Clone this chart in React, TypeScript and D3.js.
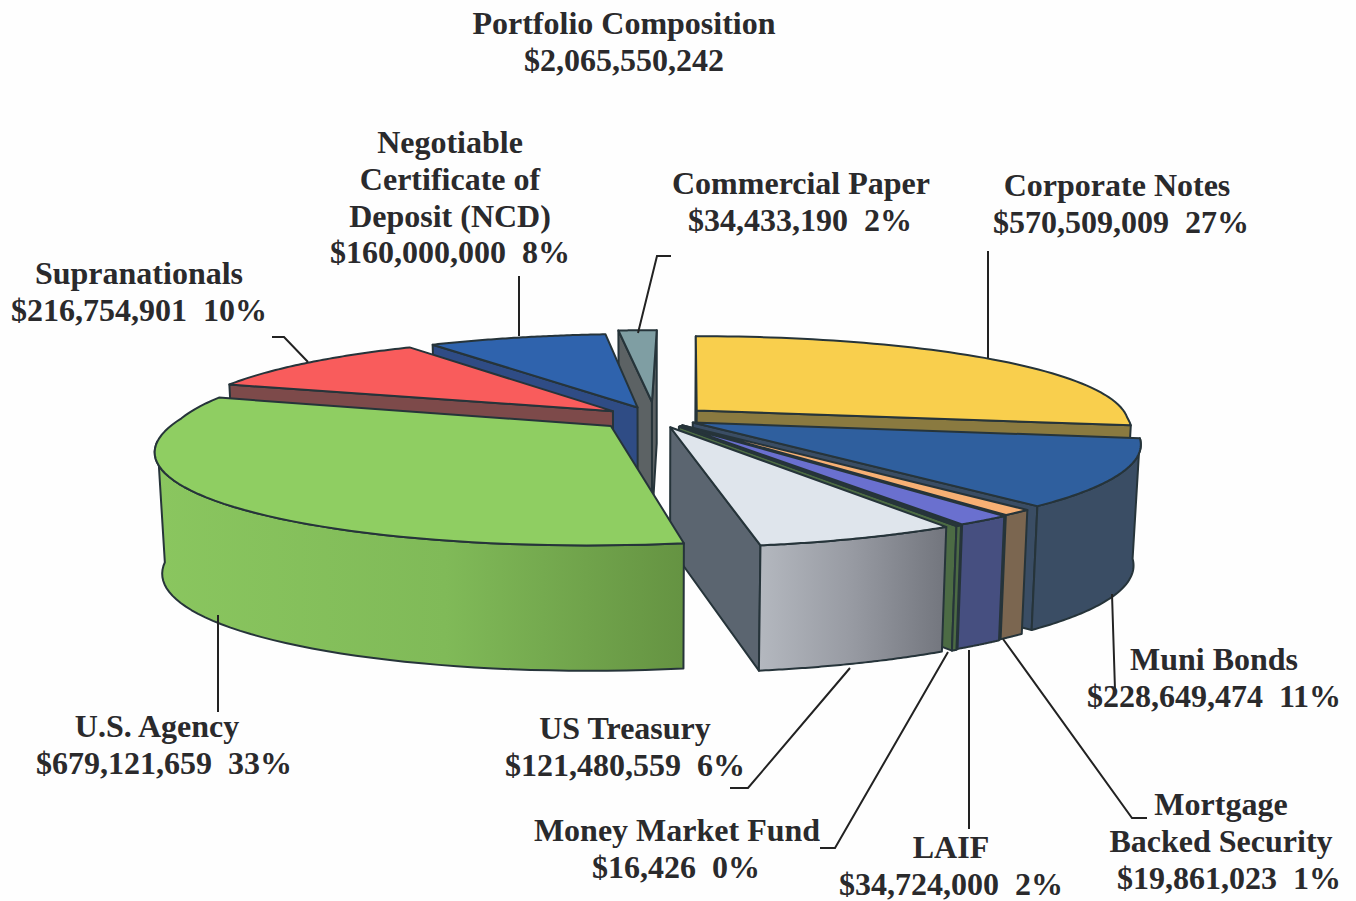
import React from 'react';
import * as d3 from 'd3';

const categories = ['Corporate Notes', 'Muni Bonds', 'Mortgage Backed Security', 'LAIF', 'Money Market Fund', 'US Treasury', 'U.S. Agency', 'Supranationals', 'Negotiable Certificate of Deposit (NCD)', 'Commercial Paper'];
const values = [570509009, 228649474, 19861023, 34724000, 16426, 121480559, 679121659, 216754901, 160000000, 34433190];
const explode = [0.127, 0.1, 0.1, 0.104, 0.108, 0.105, 0.13, 0.125, 0.125, 0.18];
const topColors = ['#f9cf4d', '#2f5f9e', '#f7b074', '#6a70cf', '#3f5a3c', '#dfe5ec', '#8fce62', '#f95c5c', '#2f63ad', '#7f9ea3'];
const wallColors = ['#8a7a40', '#3a4d64', '#7b6650', '#464f80', '#4c6b44', '#5b6570', '#7fb656', '#7d4a4a', '#2f4c85', '#5c6264'];
const drawOrder = [9, 8, 7, 0, 1, 2, 3, 4, 5, 6];

const titleLines = ['Portfolio Composition', '$2,065,550,242'];
const labelLines = [
  ['Corporate Notes', '$570,509,009  27%'],
  ['Muni Bonds', '$228,649,474  11%'],
  ['Mortgage', 'Backed Security', '$19,861,023  1%'],
  ['LAIF', '$34,724,000  2%'],
  ['Money Market Fund', '$16,426  0%'],
  ['US Treasury', '$121,480,559  6%'],
  ['U.S. Agency', '$679,121,659  33%'],
  ['Supranationals', '$216,754,901  10%'],
  ['Negotiable', 'Certificate of', 'Deposit (NCD)', '$160,000,000  8%'],
  ['Commercial Paper', '$34,433,190  2%'],
];
// centre x of each line, first baseline of each label
const labelX = [[1117, 1121], [1214, 1214], [1221, 1221, 1229], [951, 951], [677, 676], [625, 625], [157, 164], [139, 139], [450, 450, 450, 450], [801, 800]];
const labelY = [196, 670, 815, 858, 841, 739, 737, 284, 153, 194];
const leaders = [
  [[988, 251], [988, 358]],
  [[1112, 594], [1115, 690]],
  [[1003, 639], [1132, 818], [1147, 818]],
  [[969, 650], [969, 829]],
  [[948, 652], [835, 848], [820, 848]],
  [[850, 668], [748, 788], [730, 788]],
  [[218, 615], [218, 712]],
  [[272, 337], [284, 337], [308, 362]],
  [[519, 276], [519, 336]],
  [[671, 256], [657, 256], [638, 333]],
];

const width = 1356;
const height = 901;
const cx = 655;
const cy = 418;
const vanishX = 0.08;
const wallH = 119.5;

const xScale = d3.scaleLinear().domain([-1, 1]).range([cx - 432, cx + 432]);
const yScale = d3.scaleLinear().domain([-1, 1]).range([cy + 92, cy - 92]);
const line = d3.line();

// unit disc point -> screen, z 0 = top face, z 1 = bottom face
function project(X: number, D: number, z: number): [number, number] {
  const sx = 1 / (1 + (D > 0 ? 0.15 : 0.22) * D);
  const sy = 1 / (1 + 0.2 * D);
  const x = xScale(vanishX + (X - vanishX) * sx);
  const y = yScale(D * sy);
  if (z === 0) return [x, y];
  return [cx + (x - cx) * 0.985, y + wallH * (1 - 0.045 * D)];
}

const cross = (a: number[], e: number[], b: number[]) =>
  (e[0] - a[0]) * (b[1] - a[1]) - (e[1] - a[1]) * (b[0] - a[0]);

// the tiny money market slice still shows as a sliver in the 3D view
const minSlice = 3500000;
const arcs = d3.pie<number>().sort(null).value((d) => Math.max(d, minSlice))(values);

export default function App() {
  const slices = arcs.map((arc, i) => {
    const a0 = arc.startAngle;
    const a1 = arc.endAngle;
    const mid = (a0 + a1) / 2;
    const ex = explode[i] * Math.sin(mid);
    const ed = explode[i] * Math.cos(mid);
    const steps = d3.range(0, 61).map((k) => a0 + ((a1 - a0) * k) / 60);
    const rim = (ts: number[], z: number) => ts.map((t) => project(ex + Math.sin(t), ed + Math.cos(t), z));
    const topRim = rim(steps, 0);
    const apexT = project(ex, ed, 0);
    const apexB = project(ex, ed, 1);
    const first = rim([a0], 0)[0];
    const last = rim([a1], 0)[0];
    const walls: string[] = [];
    if (cross(apexT, first, apexB) < 0) {
      walls.push(line([apexT, first, rim([a0], 1)[0], apexB])! + 'Z');
    }
    if (cross(apexT, last, apexB) > 0) {
      walls.push(line([apexT, last, rim([a1], 1)[0], apexB])! + 'Z');
    }
    // only the part of the rim that faces the viewer gets an outer wall
    const front = steps.filter((t) => Math.cos(t) <= -0.15);
    const outer = front.length > 1 ? line([...rim(front, 0), ...rim(front, 1).reverse()])! + 'Z' : null;
    const top = line([apexT, ...topRim])! + 'Z';
    return { i, walls, outer, top };
  });

  const stroke = '#26343a';
  const textStyle: React.CSSProperties = {
    fontFamily: '"Liberation Serif", serif',
    fontWeight: 700,
    fontSize: 32,
    fill: '#2a2a2c',
    whiteSpace: 'pre',
  };

  return (
    <svg width={width} height={height} style={{ position: 'absolute', left: 0, top: 0, background: '#fefefe' }}>
      <defs>
        <linearGradient id="wall5" x1="0" x2="1" y1="0" y2="0">
          <stop offset="0" stopColor="#b4b8bf" />
          <stop offset="0.5" stopColor="#979aa2" />
          <stop offset="1" stopColor="#72757d" />
        </linearGradient>
        <linearGradient id="wall6" x1="0" x2="1" y1="0" y2="0">
          <stop offset="0" stopColor="#8ac65f" />
          <stop offset="0.55" stopColor="#80ba58" />
          <stop offset="1" stopColor="#659342" />
        </linearGradient>
      </defs>

      {drawOrder.map((idx) => {
        const s = slices[idx];
        const outerFill = idx === 5 ? 'url(#wall5)' : idx === 6 ? 'url(#wall6)' : wallColors[idx];
        return (
          <g key={categories[idx]} stroke={stroke} strokeWidth={2} strokeLinejoin="round">
            {s.walls.map((w, k) => (
              <path key={k} d={w} fill={wallColors[idx]} />
            ))}
            {s.outer && <path d={s.outer} fill={outerFill} />}
            <path d={s.top} fill={topColors[idx]} />
          </g>
        );
      })}

      {leaders.map((pts, i) => (
        <path key={i} d={line(pts as [number, number][])!} fill="none" stroke="#222" strokeWidth={2} />
      ))}

      {titleLines.map((t, i) => (
        <text key={t} x={624} y={34 + i * 37} textAnchor="middle" style={textStyle}>{t}</text>
      ))}
      {labelLines.map((lines, i) =>
        lines.map((t, k) => (
          <text key={t} x={labelX[i][k]} y={labelY[i] + k * 36.8} textAnchor="middle" style={textStyle}>{t}</text>
        ))
      )}
    </svg>
  );
}
